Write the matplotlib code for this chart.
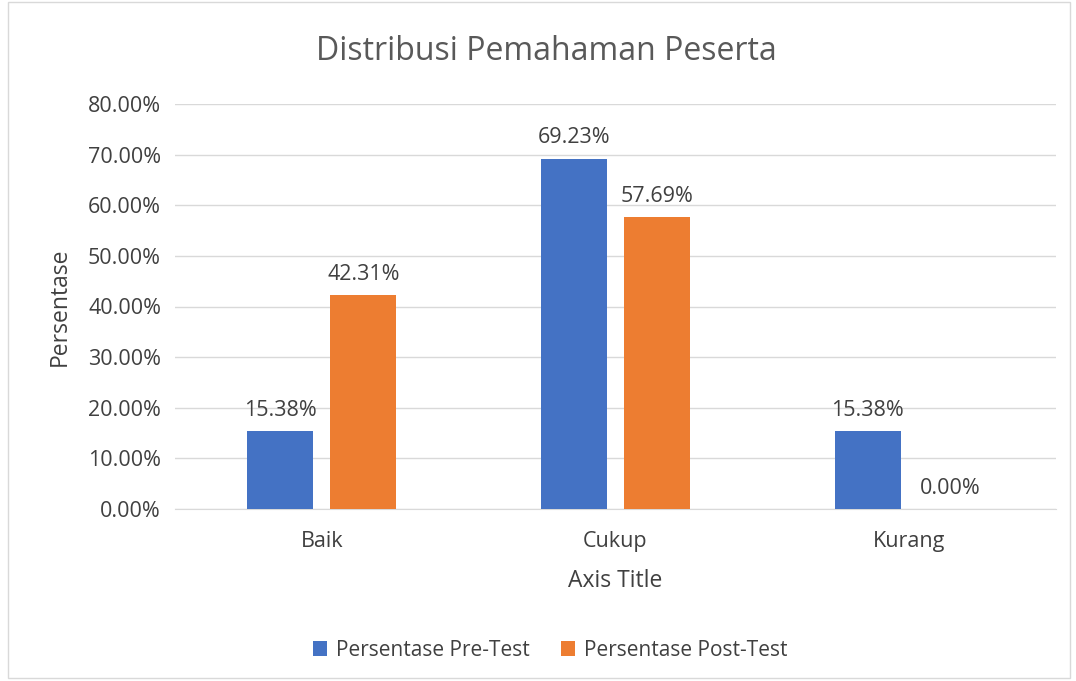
import matplotlib
matplotlib.use("Agg")
import matplotlib.pyplot as plt
import numpy as np
from matplotlib.patches import Rectangle

categories = ["Baik", "Cukup", "Kurang"]
pre_test = [15.38, 69.23, 15.38]
post_test = [42.31, 57.69, 0.00]
series_names = ["Persentase Pre-Test", "Persentase Post-Test"]
yticks = [0, 10, 20, 30, 40, 50, 60, 70, 80]

plt.rcParams['font.family'] = ['Open Sans', 'DejaVu Sans']
txt = '#404040'

fig = plt.figure(figsize=(10.76, 6.81), dpi=100)
fig.patches.append(Rectangle((8/1076, 1-678/681), 1062/1076, 676/681, transform=fig.transFigure,
                             fill=False, edgecolor='#D9D9D9', linewidth=1))
ax = fig.add_axes([175/1076, 1-509/681, (1056-175)/1076, (509-104)/681])

x = np.arange(len(categories))
w = 0.225
off = (w + 0.058) / 2
b1 = ax.bar(x - off, pre_test, w, color='#4472C4', label=series_names[0], zorder=3)
b2 = ax.bar(x + off, post_test, w, color='#ED7D31', label=series_names[1], zorder=3)
for bars, vals in ((b1, pre_test), (b2, post_test)):
    for r, v in zip(bars, vals):
        ax.text(r.get_x() + r.get_width()/2, v + 2.0, f"{v:.2f}%", ha='center', va='bottom',
                fontsize=15.5, color=txt)

ax.set_xlim(-0.5, 2.5)
ax.set_ylim(0, 80)
ax.set_yticks(yticks)
ax.set_yticklabels([f"{t:.2f}%" for t in yticks], fontsize=15.5, color=txt)
ax.set_xticks(x)
ax.set_xticklabels(categories, fontsize=15.5, color=txt)
ax.tick_params(length=0, pad=10)
ax.tick_params(axis='x', pad=16)
ax.grid(axis='y', color='#D9D9D9', linewidth=1, zorder=0)
for s in ['top', 'right', 'left']:
    ax.spines[s].set_visible(False)
ax.spines['bottom'].set_color('#D9D9D9')
ax.set_xlabel("Axis Title", fontsize=16.5, color=txt, labelpad=12)
ax.set_ylabel("Persentase", fontsize=16.5, color=txt, labelpad=12)
fig.text(546/1076, 1-52/681, "Distribusi Pemahaman Peserta", ha='center', va='center',
         fontsize=23, color='#595959')
fig.legend(handles=[b1, b2], loc='center', bbox_to_anchor=(550/1076, 1-650/681), ncol=2,
           frameon=False, fontsize=15, handlelength=0.7, handleheight=0.7, handletextpad=0.4,
           columnspacing=1.5, labelcolor=txt)
fig.savefig("out.png", dpi=100)
